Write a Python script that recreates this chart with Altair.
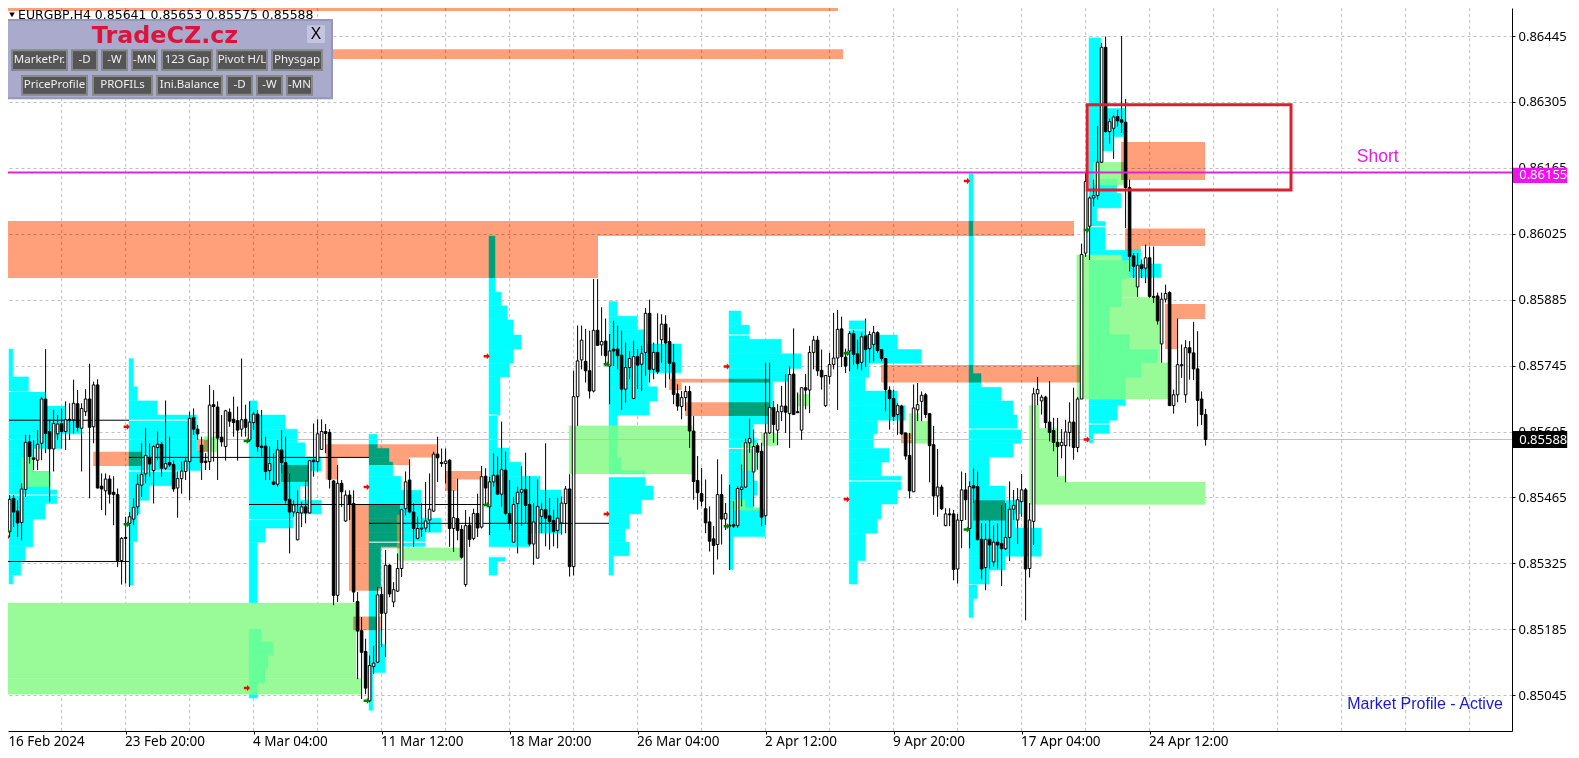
import altair as alt
import pandas as pd

alt.data_transformers.disable_max_rows()

# Prices are in 1/100000 units. Candles are (open, high, low, close).
candles_a = [
 (85516,85649,85445,85484),(85484,85534,85452,85527),(85392,85470,85381,85461),(85463,85470,85402,85434),
 (85436,85459,85381,85411),(85412,85495,85374,85483),(85482,85598,85466,85582),(85583,85598,85537,85552),
 (85549,85587,85523,85546),(85544,85608,85523,85578),(85580,85679,85544,85674),(85674,85780,85559,85601),
 (85605,85630,85456,85568),(85568,85651,85520,85622),(85600,85640,85587,85621),(85622,85654,85569,85605),
 (85605,85669,85566,85630),(85631,85665,85587,85630),(85630,85715,85601,85665),(85664,85693,85605,85614),
 (85612,85665,85520,85654),(85647,85695,85638,85674),(85674,85749,85463,85614),(85615,85711,85580,85704),
 (85704,85716,85484,85485),(85489,85516,85438,85483),(85479,85516,85427,85504),(85504,85512,85452,85472),
 (85476,85510,85406,85471),(85471,85484,85317,85331),(85331,85381,85280,85378),(85380,85424,85282,85378)]
candles_b = [
 (85410,85434,85275,85424),(85419,85463,85406,85444),(85445,85514,85427,85493),(85491,85580,85466,85514),
 (85515,85612,85495,85554),(85550,85580,85509,85536),(85522,85576,85452,85573),(85571,85605,85544,85578),
 (85578,85583,85509,85527),(85527,85671,85523,85537),(85539,85594,85530,85534),(85535,85544,85477,85483),
 (85485,85520,85422,85505),(85505,85541,85473,85521),(85520,85551,85502,85542),(85541,85647,85459,85633),
 (85635,85654,85598,85610),(85610,85619,85587,85600),(85576,85594,85502,85539),(85542,85559,85523,85539),
 (85541,85704,85523,85661),(85662,85693,85541,85658),(85657,85669,85502,85591),(85593,85640,85573,85583),
 (85573,85651,85543,85649),(85646,85654,85615,85627),(85631,85679,85594,85624),(85628,85658,85543,85608),
 (85610,85760,85594,85630),(85631,85662,85594,85614),(85587,85669,85583,85625),(85624,85647,85608,85642)]
candles_c = [
 (85642,85651,85562,85573),(85574,85651,85552,85571),(85574,85594,85502,85520),(85522,85573,85502,85537),
 (85498,85559,85491,85493),(85493,85587,85488,85566),(85566,85608,85516,85539),(85539,85594,85452,85459),
 (85461,85516,85346,85434),(85434,85459,85424,85449),(85375,85480,85374,85433),(85432,85456,85402,85445),
 (85445,85502,85410,85432),(85432,85544,85431,85543),(85544,85622,85509,85541),(85541,85631,85520,85600),
 (85567,85631,85566,85605),(85605,85621,85559,85601),(85603,85610,85484,85503),(85500,85502,85236,85257),
 (85257,85534,85243,85495),(85495,85502,85445,85477),(85415,85480,85413,85470),(85470,85480,85417,85451),
 (85452,85480,85243,85264),(85244,85264,85079,85181),(85182,85211,85037,85136),(85138,85165,85047,85060),
 (85033,85129,85030,85108),(85106,85150,85090,85113),(85115,85275,85113,85258),(85259,85275,85147,85219)]
candles_d = [
 (85219,85353,85126,85321),(85321,85323,85253,85260),(85243,85285,85232,85269),(85266,85346,85264,85314),
 (85314,85441,85296,85439),(85441,85520,85427,85498),(85502,85546,85431,85434),(85434,85452,85360,85399),
 (85378,85424,85376,85399),(85398,85452,85381,85400),(85400,85498,85392,85415),(85417,85516,85392,85440),
 (85436,85562,85434,85557),(85557,85594,85498,85549),(85539,85569,85530,85537),(85537,85569,85495,85542),
 (85544,85546,85360,85399),(85399,85480,85349,85422),(85420,85505,85374,85395),(85397,85406,85335,85338),
 (85280,85438,85275,85405),(85406,85424,85360,85376),(85378,85441,85374,85431),(85431,85473,85381,85400),
 (85402,85532,85399,85509),(85510,85527,85449,85485),(85445,85509,85385,85498),(85498,85559,85488,85512),
 (85512,85552,85470,85472),(85472,85626,85445,85524),(85523,85562,85427,85431),(85431,85502,85395,85410)]
candles_e = [
 (85370,85466,85370,85450),(85452,85488,85346,85476),(85476,85531,85404,85482),(85482,85560,85411,85448),
 (85450,85510,85361,85366),(85366,85453,85322,85413),(85336,85503,85336,85446),(85425,85453,85389,85439),
 (85439,85580,85361,85421),(85426,85464,85354,85414),(85416,85439,85361,85393),(85395,85464,85357,85421),
 (85411,85467,85386,85453),(85452,85489,85389,85483),(85483,85514,85297,85318),(85318,85734,85299,85679),
 (85679,85830,85617,85755),(85757,85830,85737,85799),(85754,85823,85709,85734),(85734,85819,85675,85691),
 (85691,85929,85688,85820),(85820,85929,85787,85788),(85789,85869,85766,85796),(85797,85845,85744,85766),
 (85744,85812,85663,85776),(85780,85840,85744,85776),(85780,85830,85737,85766),(85767,85819,85651,85695),
 (85695,85794,85666,85741),(85741,85776,85716,85760),(85675,85798,85675,85764),(85764,85780,85695,85746)]
candles_f = [
 (85748,85787,85691,85771),(85773,85867,85723,85856),(85856,85885,85709,85737),(85737,85794,85716,85773),
 (85773,85856,85727,85732),(85800,85854,85751,85833),(85833,85852,85698,85793),(85796,85826,85716,85750),
 (85751,85791,85663,85684),(85685,85705,85649,85659),(85658,85691,85631,85677),(85677,85702,85649,85690),
 (85690,85702,85570,85606),(85606,85638,85460,85499),(85501,85553,85439,85475),(85473,85528,85446,85457),
 (85441,85503,85389,85411),(85413,85446,85350,85372),(85377,85404,85301,85363),(85365,85546,85333,85471),
 (85471,85514,85365,85419),(85419,85453,85396,85431),(85406,85492,85311,85404),(85407,85457,85400,85404),
 (85405,85489,85400,85484),(85482,85535,85446,85487),(85487,85590,85485,85581),(85581,85632,85560,85590),
 (85519,85609,85446,85573),(85575,85581,85524,85561),(85563,85581,85404,85423),(85426,85751,85407,85602)]
candles_g = [
 (85602,85751,85600,85656),(85656,85670,85581,85620),(85608,85663,85576,85647),(85647,85702,85627,85659),
 (85659,85727,85602,85646),(85643,85744,85570,85726),(85727,85824,85640,85641),(85647,85688,85644,85645),
 (85608,85698,85587,85698),(85698,85727,85652,85693),(85693,85787,85644,85773),(85773,85808,85737,85799),
 (85799,85808,85723,85734),(85735,85779,85694,85721),(85660,85724,85657,85724),(85722,85772,85705,85747),
 (85747,85857,85737,85761),(85761,85863,85651,85822),(85823,85849,85742,85764),(85763,85781,85729,85744),
 (85776,85818,85733,85813),(85813,85820,85747,85769),(85770,85800,85737,85749),(85752,85815,85735,85806),
 (85808,85845,85742,85779),(85781,85818,85751,85811),(85790,85829,85754,85815),(85815,85818,85772,85777),
 (85779,85779,85754,85760),(85760,85760,85648,85694),(85693,85701,85609,85675),(85675,85694,85627,85637)]
candles_h = [
 (85641,85666,85598,85660),(85659,85662,85598,85600),(85602,85602,85545,85553),(85554,85602,85463,85479),
 (85477,85705,85477,85655),(85651,85708,85627,85662),(85669,85690,85627,85682),(85683,85687,85634,85641),
 (85643,85643,85497,85575),(85577,85617,85428,85468),(85468,85568,85424,85487),(85487,85492,85438,85441),
 (85405,85442,85404,85430),(85430,85442,85404,85428),(85430,85438,85289,85312),(85313,85430,85282,85417),
 (85416,85520,85357,85481),(85481,85517,85417,85460),(85399,85499,85357,85488),(85490,85527,85453,85485),
 (85488,85520,85375,85375),(85376,85410,85291,85313),(85316,85410,85268,85376),(85376,85417,85314,85364),
 (85328,85406,85318,85370),(85370,85410,85314,85364),(85367,85449,85277,85356),(85356,85453,85353,85380),
 (85380,85499,85330,85440),(85440,85481,85417,85448),(85417,85485,85366,85460),(85456,85515,85424,85481)]
candles_i = [
 (85481,85485,85204,85313),(85314,85453,85295,85417),(85414,85698,85364,85685),(85685,85721,85661,85694),
 (85670,85683,85641,85678),(85678,85681,85612,85624),(85625,85712,85584,85603),(85607,85634,85563,85582),
 (85582,85634,85509,85573),(85575,85610,85548,85582),(85575,85630,85497,85604),(85603,85667,85573,85625),
 (85625,85698,85545,85571),(85571,85678,85561,85674),(85674,86004,85674,85981),(85984,86154,85976,86136),
 (86041,86104,85969,86101),(86101,86140,86083,86106),(86106,86254,86097,86177),(86177,86430,86175,86421),
 (86421,86444,86240,86242),(86242,86270,86216,86263),(86249,86277,86184,86273),(86274,86288,86253,86265),
 (86267,86445,86239,86262),(86262,86311,86037,86123),(86123,86140,85945,85977),(85978,85984,85931,85956),
 (85912,85984,85891,85958),(85959,85970,85931,85951),(85952,86002,85920,85974),(85974,85998,85889,85892)]
candles_j = [
 (85892,85998,85878,85890),(85893,85900,85832,85840),(85791,85900,85751,85886),(85886,85917,85879,85898),
 (85900,85903,85659,85660),(85660,85694,85643,85683),(85683,85845,85667,85747),(85745,85790,85719,85747),
 (85683,85799,85666,85783),(85783,85797,85715,85772),(85772,85838,85714,85738),(85738,85818,85616,85671),
 (85674,85690,85619,85641),(85641,85653,85575,85588)]

# Market-profile histograms: start bar, then (upper price, lower price, end bar)
profiles = [
 (1.85, [(85780,85721,2.8),(85721,85690,6.7),(85690,85659,10.85),(85659,85629,15.85),(85629,85600,19.85),
         (85600,85569,14.85),(85569,85520,7.9),(85520,85481,12.1),(85481,85452,13.8),(85452,85419,10.85),
         (85419,85360,7.8),(85360,85331,5.85),(85331,85300,4.8),(85300,85281,2.8)]),
 (31.85, [(85760,85700,32.9),(85700,85670,33.9),(85670,85640,38.9),(85640,85562,48.8),(85562,85522,49.85),
          (85522,85490,43.8),(85490,85459,36.85),(85459,85430,34.6),(85430,85371,33.9),(85371,85279,32.9)]),
 (61.9, [(85670,85640,63.85),(85640,85610,70.85),(85610,85581,73.85),(85581,85551,75.85),(85551,85521,79.85),
         (85521,85489,76.85),(85489,85459,74.6),(85459,85430,79.85),(85430,85400,72.85),(85400,85370,65.85),
         (85370,85039,63.85)]),
 (91.85, [(85599,85569,93.9),(85569,85540,96.85),(85540,85510,97.8),(85510,85480,99.8),(85480,85421,104.85),
          (85421,85391,109.85),(85391,85361,105.85),(85361,85272,94.8),(85272,85183,93.8),(85183,85153,94.8),
          (85153,85093,95.85),(85093,85013,92.8)]),
 (121.85, [(86020,85901,123.35),(85901,85872,124.85),(85872,85842,126.35),(85842,85810,127.85),(85810,85780,129.85),
           (85780,85750,127.85),(85750,85721,126.85),(85721,85640,124.6),(85640,85570,123.85),(85570,85540,126.85),
           (85540,85510,129.85),(85510,85481,134.6),(85481,85389,139.85),(85389,85360,131.85),(85340,85330,125.85),
           (85330,85300,123.85)]),
 (151.85, [(85881,85850,153.9),(85850,85821,158.9),(85821,85791,160.9),(85791,85730,169.85),(85730,85700,161.7),
           (85700,85670,163.9),(85670,85640,161.85),(85640,85516,153.9),(85509,85489,160.85),(85489,85460,162.85),
           (85460,85430,159.85),(85430,85399,156.85),(85399,85370,155.85),(85370,85341,156.85),(85341,85300,152.9)]),
 (181.85, [(85861,85831,184.8),(85831,85801,186.85),(85801,85770,194.85),(85770,85739,199.85),(85739,85711,196.5),
           (85711,85651,192.8),(85651,85621,191.9),(85621,85590,187.9),(85590,85560,188.75),(85560,85530,188.9),
           (85530,85500,187.9),(85500,85470,188.9),(85470,85440,187.9),(85440,85382,190.85),(85382,85312,182.9)]),
 (211.9, [(85840,85810,215.85),(85810,85779,223.9),(85779,85750,229.85),(85750,85720,216.85),(85720,85691,215.85),
          (85691,85660,223.9),(85660,85629,225.85),(85629,85600,218.9),(85600,85569,217.9),(85569,85540,221.85),
          (85540,85510,219.85),(85510,85481,224.85),(85481,85451,223.9),(85451,85419,219.85),(85419,85389,218.9),
          (85389,85331,215.85),(85331,85281,213.85)]),
 (241.85, [(86152,85728,242.85),(85728,85699,244.85),(85699,85670,249.85),(85670,85640,252.85),(85640,85610,253.85),
           (85610,85580,254.85),(85580,85551,252.85),(85551,85489,246.85),(85489,85459,250.85),(85459,85430,255),
           (85430,85400,253.35),(85400,85340,259.85),(85340,85311,250.85),(85311,85281,246.85),(85279,85250,243.85),
           (85250,85210,242.85)]),
 (271.85, [(86441,86291,274.8),(86291,86231,280.85),(86231,86201,277.8),(86201,86150,274.8),(86150,86111,278.8),
           (86111,86080,279.8),(86080,86051,273.8),(86051,85990,275.85),(85990,85961,284.8),(85961,85932,289.8),
           (85932,85674,280),(85674,85660,280.85),(85660,85629,278.9),(85629,85601,276.85),(85601,85581,272.9)]),
]

# Zones: (start bar, end bar, upper price, lower price)
orange_zones = [
 (-8,209.1,86521,86498),(-8,210.35,86417,86396),(-8,268.1,86052,86020),(-8,149.1,86020,85931),
 (22.9,34.85,85562,85532),(48.9,51.7,85588,85562),(69.85,76.9,85534,85498),
 (81,108.8,85578,85550),(81,84,85550,85503),(91.85,101.85,85550,85534),
 (86.85,99.6,85449,85357),(86.85,94.8,85357,85267),(87.9,94.8,85212,85183),
 (110.85,120,85521,85503),(110.85,113.75,85503,85479),
 (166.85,191.9,85717,85709),(166.85,170,85709,85693),(170.85,191.9,85667,85638),
 (224.85,227.5,85601,85580),(219.85,269.6,85746,85709),(242.85,250.85,85459,85416),
 (279.85,300.85,86220,86139),(280.85,300.85,86036,85999),(280.85,284.8,85999,85990),
 (290.85,300.85,85876,85844),(290.85,294,85844,85780)]
green_zones = [
 (-8,88.6,85241,85081),(-8,89.85,85081,85047),(50.6,53.9,85594,85562),
 (98.9,115,85358,85331),(98.9,99.6,85428,85358),(141.85,172.7,85617,85515),
 (189.85,193.8,85601,85575),(198.9,201.9,85684,85659),
 (226.9,231.7,85627,85580),(226.9,229.4,85643,85627),
 (268.8,280,85980,85674),(279.8,283.9,85930,85891),(276.85,289.6,85890,85751),(276.85,291.7,85751,85674),
 (273,280.85,86177,86129),
 (256.9,300.85,85498,85450),(256.9,263.8,85612,85498),(256.9,259.4,85661,85612),(263.8,265.85,85510,85498)]
mint_zones = [
 (5,7.9,85550,85520),(5,12.1,85520,85488),
 (61.9,64.85,85185,85158),(61.9,67.8,85158,85130),(61.9,66.6,85130,85103),(61.9,65.85,85103,85071),(61.9,63.85,85071,85047),
 (151.85,153.9,85617,85550),(151.85,154.8,85550,85520),(151.85,160.85,85522,85515),
 (185,188.75,85580,85522),(182.9,185.85,85460,85438),(185.85,189.6,85443,85438),
 (274.2,278.8,86141,86129),
 (271.85,282.1,85968,85930),(271.85,279.8,85930,85870),(271.85,276.85,85870,85811),(271.85,281.85,85811,85779),
 (271.85,288.9,85779,85751),(271.85,284.8,85751,85720),(271.85,280.85,85720,85674)]
# Thin level lines: (start bar, end bar, price)
white_levels = [
 (1.85,10.85,85690),(1.85,13.8,85470),(31.85,48.8,85629),(31.85,43.8,85521),(61.9,72.85,85418),(91.85,105.85,85370),
 (121.85,123.85,85640),(121.85,125.85,85339),(151.85,160.85,85509),(181.85,186.85,85810),(181.85,188.75,85569),
 (211.9,215.85,85821),(211.9,224.85,85500),(241.85,254.85,85610),(271.85,276.85,85621),(271.85,275.85,86040)]
black_levels = [
 (1.85,31.85,85629),(31.85,91.85,85550),(61.85,121.85,85450),(91.85,151.85,85410),(-8,31.85,85329),(-8,0.5,85380)]
red_arrows = [(1.3,85381),(31.3,85615),(61.35,85060),(91.3,85487),(121.3,85765),(151.3,85430),(181.3,85743),(211.3,85461),(241.35,86137),(271.3,85588)]
green_arrows = [(1.3,85394),(31.3,85408),(61.3,85585),(91.3,85033),(121.3,85449),(151.3,85748),(181.3,85404),(211.3,85771),(241.3,85397),(271.3,86033)]

price_ticks = [86445,86305,86165,86025,85885,85745,85605,85465,85325,85185,85045]
time_ticks = [31,63,95,127,159,191,223,255,287]
time_labels = ["23 Feb 20:00","4 Mar 04:00","11 Mar 12:00","18 Mar 20:00","26 Mar 04:00","2 Apr 12:00","9 Apr 20:00","17 Apr 04:00","24 Apr 12:00"]
grid_bars = [15,31,47,63,79,95,111,127,143,159,175,191,207,223,239,255,271,287,303,319,335,351,367]

# Control panel, placed in bar/price terms
panel_buttons = [
 ("MarketPr.",2.6,16.35,86415,86373),("-D",17.6,23.85,86415,86373),("-W",25.1,31.35,86415,86373),("-MN",32.6,38.85,86415,86373),
 ("123 Gap",40.1,52.6,86415,86373),("Pivot H/L",53.85,66.35,86415,86373),("Physgap",67.6,80.1,86415,86373),
 ("PriceProfile",5.1,21.35,86360,86320),("PROFILs",22.85,37.6,86360,86320),("Ini.Balance",38.85,55.1,86360,86320),
 ("-D",56.35,62.6,86360,86320),("-W",63.85,70.1,86360,86320),("-MN",71.35,77.6,86360,86320)]

UI = "Noto Sans"
XS = alt.Scale(domain=[1.6, 377.6], nice=False, zero=False, padding=0)
YS = alt.Scale(domain=[84968.9, 86504.5], nice=False, zero=False, padding=0)
XA = alt.Axis(
    values=time_ticks, title=None, grid=False, orient="bottom",
    labelExpr="[" + ",".join("'%s'" % s for s in time_labels) + "][(datum.value-31)/32]",
    labelAlign="left", labelFont=UI, labelFontSize=13.5, labelColor="#000000", labelPadding=0, labelOffset=-1,
    labelOverlap=False, labelFlush=False, tickColor="#000000", tickSize=3, domainColor="#000000", domainWidth=1)
YA = alt.Axis(
    values=price_ticks, title=None, orient="right", grid=True, gridColor="#c0c0c0", gridDash=[3, 3], gridWidth=1,
    labelExpr="format(datum.value/100000,'.5f')", labelFont=UI, labelFontSize=13, labelColor="#000000",
    labelPadding=3, labelOverlap=False, tickColor="#000000", tickSize=3, domainColor="#000000", domainWidth=1)

def X(f):
    return alt.X(f, scale=XS, axis=XA)

def Y(f):
    return alt.Y(f, scale=YS, axis=YA)

def zones(rows):
    return pd.DataFrame(rows, columns=["a", "b", "t", "u"])

def rect_layer(rows, **mark):
    return alt.Chart(zones(rows)).mark_rect(**mark).encode(x=X("a:Q"), x2="b:Q", y=Y("t:Q"), y2="u:Q")

def level_layer(rows, color, width=1):
    return alt.Chart(pd.DataFrame(rows, columns=["a", "b", "p"])).mark_rule(color=color, strokeWidth=width).encode(
        x=X("a:Q"), x2="b:Q", y=Y("p:Q"))

def text_layer(txt, bar, price, **mark):
    return alt.Chart(pd.DataFrame({"s": [txt], "a": [bar], "p": [price]})).mark_text(baseline="middle", **mark).encode(
        x=X("a:Q"), y=Y("p:Q"), text="s:N")

rows = (candles_a + candles_b + candles_c + candles_d + candles_e + candles_f + candles_g + candles_h + candles_i + candles_j)
df = pd.DataFrame(rows, columns=["o", "h", "l", "c"])
df["k"] = range(len(df))
df["top"] = df[["o", "c"]].max(axis=1)
df["bot"] = df[["o", "c"]].min(axis=1)

cyan_rows = [(start, end, top, low) for start, levels in profiles for top, low, end in levels]

grid = alt.Chart(pd.DataFrame({"k": grid_bars, "lo": 84968.9, "hi": 86504.5})).mark_rule(
    color="#c0c0c0", strokeDash=[3, 3], strokeWidth=1).encode(x=X("k:Q"), y=Y("lo:Q"), y2="hi:Q")

wicks = alt.Chart(df).mark_rule(color="#000000", strokeWidth=1).encode(x=X("k:Q"), y=Y("h:Q"), y2="l:Q")
bodies_up = alt.Chart(df[df.c >= df.o]).mark_bar(size=2.6, color="#ffffff", stroke="#000000", strokeWidth=1).encode(
    x=X("k:Q"), y=Y("top:Q"), y2="bot:Q")
bodies_dn = alt.Chart(df[df.c < df.o]).mark_bar(size=2.6, color="#000000", stroke="#000000", strokeWidth=1).encode(
    x=X("k:Q"), y=Y("top:Q"), y2="bot:Q")

ARROW = "M -1 -0.4 L 0 -0.4 L 0 -1 L 1 0 L 0 1 L 0 0.4 L -1 0.4 Z"
def arrows(pts, color):
    return alt.Chart(pd.DataFrame(pts, columns=["a", "p"])).mark_point(
        shape=ARROW, filled=True, size=40, color=color, opacity=1).encode(x=X("a:Q"), y=Y("p:Q"))

current = alt.Chart(pd.DataFrame({"p": [85588]})).mark_rule(color="#c0c0c0", strokeWidth=1).encode(y=Y("p:Q"))
short_line = alt.Chart(pd.DataFrame({"p": [86155]})).mark_rule(color="#dd22dd", strokeWidth=2).encode(y=Y("p:Q"))

btn_df = pd.DataFrame(panel_buttons, columns=["s", "a", "b", "t", "u"])
btn_df["mid"] = (btn_df.a + btn_df.b) / 2
btn_df["pm"] = (btn_df.t + btn_df.u) / 2
buttons = alt.Chart(btn_df).mark_rect(color="#555555", stroke="#888888", strokeWidth=2).encode(
    x=X("a:Q"), x2="b:Q", y=Y("t:Q"), y2="u:Q")
btn_text = alt.Chart(btn_df).mark_text(font=UI, fontSize=11.5, color="#f0f0f0", baseline="middle").encode(
    x=X("mid:Q"), y=Y("pm:Q"), text="s:N")

tri = alt.Chart(pd.DataFrame({"a": [2.6], "p": [86490]})).mark_point(
    shape="triangle-down", filled=True, size=30, color="#000000", opacity=1).encode(x=X("a:Q"), y=Y("p:Q"))

chart = alt.layer(
    grid,
    rect_layer(cyan_rows, color="#00ffff", stroke="#00ffff", strokeWidth=0.5),
    rect_layer(green_zones, color="#98fb98", stroke="#98fb98", strokeWidth=0.3),
    rect_layer(orange_zones, color="#ffa07a", blend="multiply"),
    rect_layer(mint_zones, color="#66ff99", stroke="#66ff99", strokeWidth=0.5),
    level_layer(white_levels, "#ffffff"),
    current,
    level_layer(black_levels, "#000000"),
    wicks, bodies_up, bodies_dn,
    arrows(red_arrows, "#ff0000"), arrows(green_arrows, "#008000"),
    short_line,
    rect_layer([(271.4, 322.35, 86299, 86118)], fillOpacity=0, stroke="#dc2030", strokeWidth=3),
    text_layer("Short", 338.8, 86188, font="Liberation Sans", fontSize=17.5, color="#e020e0", align="left"),
    text_layer("Market Profile - Active", 375.3, 85026, font="Liberation Sans", fontSize=16, color="#1a1acc", align="right"),
    rect_layer([(377.85, 391.4, 86165, 86133)], color="#f010f0"),
    rect_layer([(377.85, 391.4, 85606, 85570)], color="#000000"),
    text_layer("0.86155", 379.4, 86150, font=UI, fontSize=13, color="#ffffff", align="left"),
    text_layer("0.85588", 379.4, 85588, font=UI, fontSize=13, color="#ffffff", align="left"),
    text_layer("16 Feb 2024", 1.7, 84946, font=UI, fontSize=13.5, color="#000000", align="left"),
    text_layer("EURGBP,H4 0.85641 0.85653 0.85575 0.85588", 4.1, 86490, font="DejaVu Sans", fontSize=12.5, color="#000000", align="left"),
    tri,
    rect_layer([(0.3, 82.6, 86479, 86313)], color="#aaaacc", stroke="#9696b8", strokeWidth=2),
    text_layer("TradeCZ.cz", 40.85, 86445, font="DejaVu Sans", fontWeight="bold", fontSize=23.8, color="#dc143c", align="center"),
    rect_layer([(76.35, 80.85, 86468, 86430)], color="#c4c4e0"),
    text_layer("X", 78.6, 86449, font=UI, fontSize=17, color="#000000", align="center"),
    buttons, btn_text,
).properties(
    width=1504, height=723,
    padding={"left": 0, "top": 0, "right": 59, "bottom": 18},
    autosize=alt.AutoSizeParams(type="none"),
    background="#ffffff",
).configure_view(stroke=None)

chart.save("out.html", embed_options={"renderer": "svg", "actions": False})
